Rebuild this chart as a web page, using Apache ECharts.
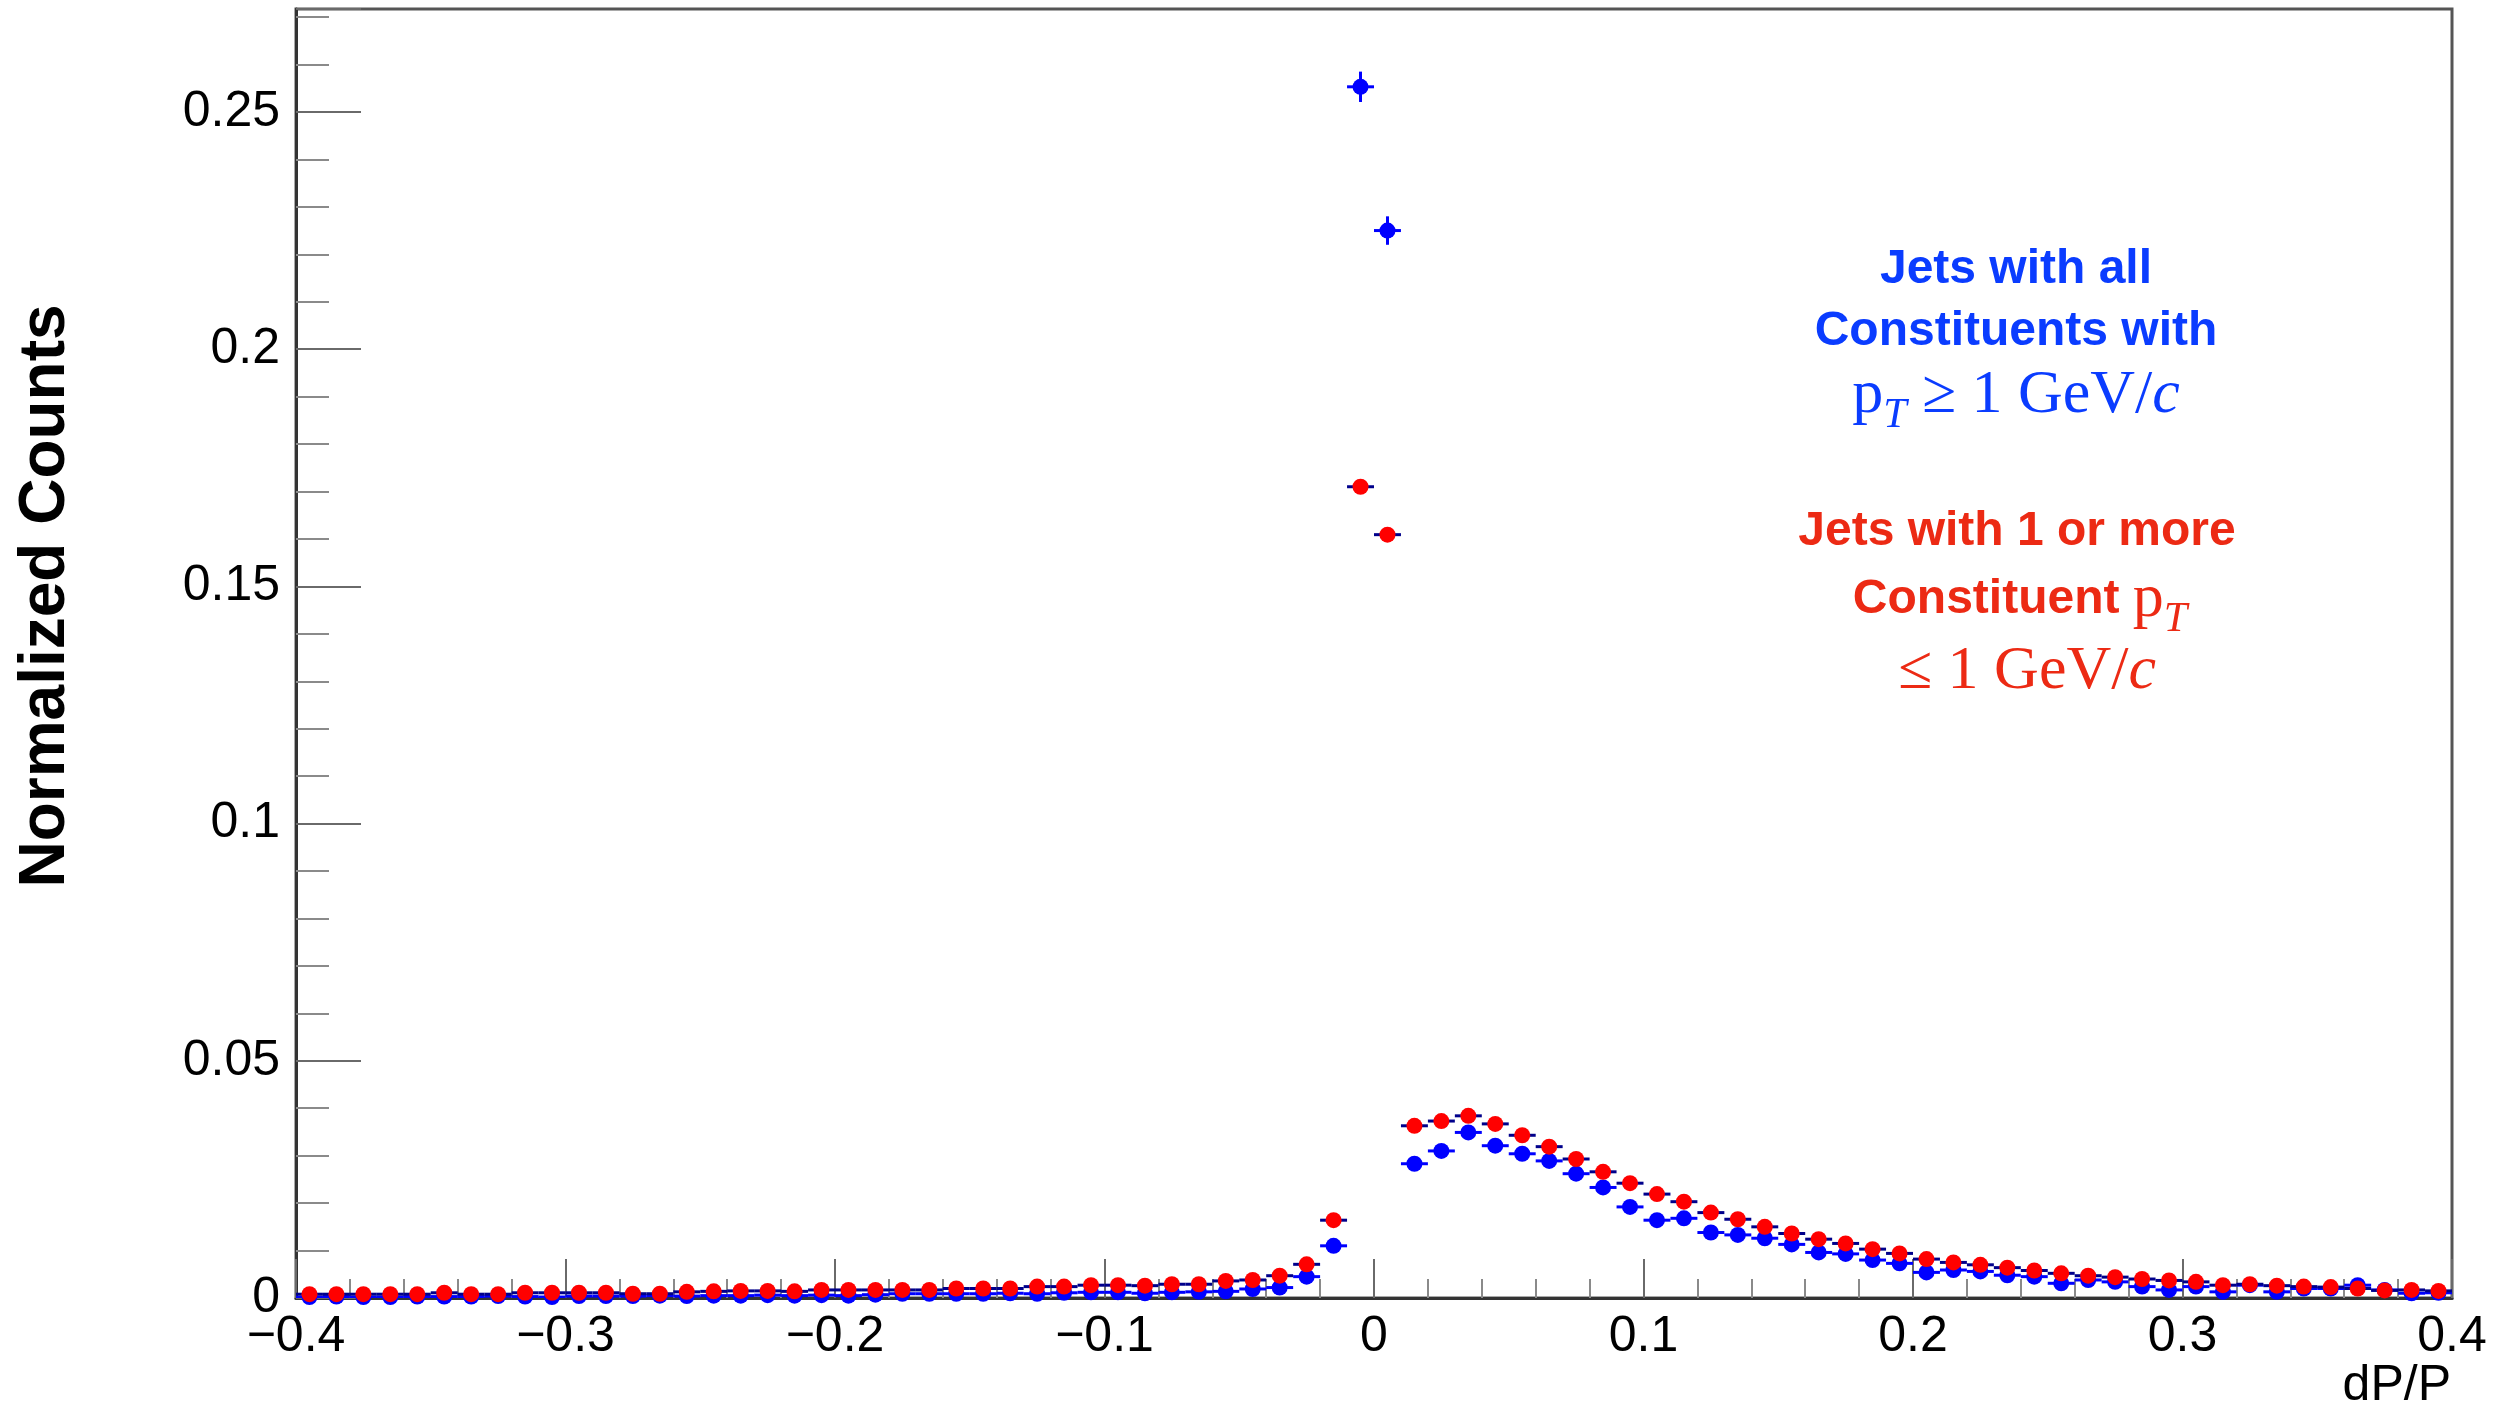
<!DOCTYPE html>
<html>
<head>
<meta charset="utf-8">
<script src="https://cdn.jsdelivr.net/npm/echarts@6/dist/echarts.min.js"></script>
<style>
  html, body { margin: 0; padding: 0; background: #ffffff; }
  #main { width: 2509px; height: 1410px; }
</style>
</head>
<body>
<div id="main"></div>
<script>
// Bin centres of the dP/P histogram (80 bins of width 0.01 from -0.4 to 0.4)
const binCenters = [
  -0.395, -0.385, -0.375, -0.365, -0.355, -0.345, -0.335, -0.325, -0.315, -0.305,
  -0.295, -0.285, -0.275, -0.265, -0.255, -0.245, -0.235, -0.225, -0.215, -0.205,
  -0.195, -0.185, -0.175, -0.165, -0.155, -0.145, -0.135, -0.125, -0.115, -0.105,
  -0.095, -0.085, -0.075, -0.065, -0.055, -0.045, -0.035, -0.025, -0.015, -0.005,
   0.005,  0.015,  0.025,  0.035,  0.045,  0.055,  0.065,  0.075,  0.085,  0.095,
   0.105,  0.115,  0.125,  0.135,  0.145,  0.155,  0.165,  0.175,  0.185,  0.195,
   0.205,  0.215,  0.225,  0.235,  0.245,  0.255,  0.265,  0.275,  0.285,  0.295,
   0.305,  0.315,  0.325,  0.335,  0.345,  0.355,  0.365,  0.375,  0.385,  0.395
];
const binWidth = 0.01;

// Jets whose constituents all have pT >= 1 GeV/c (blue)
const hardJets = [
  0.0002, 0.0003, 0.0002, 0.0002, 0.0003, 0.0003, 0.0003, 0.0004, 0.0003, 0.0002,
  0.0004, 0.0004, 0.0004, 0.0005, 0.0004, 0.0005, 0.0005, 0.0006, 0.0005, 0.0006,
  0.0005, 0.0007, 0.0009, 0.0009, 0.0009, 0.0009, 0.0010, 0.0009, 0.0011, 0.0012,
  0.0012, 0.0010, 0.0012, 0.0013, 0.0014, 0.0019, 0.0022, 0.0045, 0.0110, 0.2553,
  0.2250, 0.0283, 0.0310, 0.0349, 0.0321, 0.0304, 0.0289, 0.0262, 0.0233, 0.0192,
  0.0164, 0.0168, 0.0138, 0.0133, 0.0126, 0.0113, 0.0096, 0.0093, 0.0080, 0.0073,
  0.0054, 0.0059, 0.0056, 0.0048, 0.0045, 0.0031, 0.0038, 0.0034, 0.0024, 0.0017,
  0.0024, 0.0013, 0.0027, 0.0013, 0.0020, 0.0020, 0.0027, 0.0017, 0.0010, 0.0011
];
const hardJetsErr = [
  0.0001, 0.0001, 0.0001, 0.0001, 0.0001, 0.0001, 0.0001, 0.0001, 0.0001, 0.0001,
  0.0001, 0.0001, 0.0001, 0.0001, 0.0001, 0.0001, 0.0001, 0.0001, 0.0001, 0.0001,
  0.0001, 0.0001, 0.0002, 0.0002, 0.0002, 0.0002, 0.0002, 0.0002, 0.0002, 0.0002,
  0.0002, 0.0002, 0.0002, 0.0002, 0.0002, 0.0003, 0.0003, 0.0004, 0.0007, 0.0032,
  0.0030, 0.0010, 0.0010, 0.0011, 0.0010, 0.0010, 0.0010, 0.0009, 0.0009, 0.0008,
  0.0007, 0.0007, 0.0007, 0.0006, 0.0006, 0.0006, 0.0005, 0.0005, 0.0005, 0.0005,
  0.0004, 0.0004, 0.0004, 0.0004, 0.0004, 0.0003, 0.0003, 0.0003, 0.0003, 0.0002,
  0.0003, 0.0002, 0.0003, 0.0002, 0.0002, 0.0002, 0.0003, 0.0002, 0.0002, 0.0002
];

// Jets with one or more constituents of pT <= 1 GeV/c (red)
const softJets = [
  0.0008, 0.0008, 0.0008, 0.0008, 0.0008, 0.0011, 0.0008, 0.0008, 0.0011, 0.0011,
  0.0011, 0.0011, 0.0009, 0.0009, 0.0013, 0.0014, 0.0015, 0.0015, 0.0014, 0.0017,
  0.0017, 0.0017, 0.0017, 0.0017, 0.0020, 0.0020, 0.0020, 0.0024, 0.0024, 0.0027,
  0.0027, 0.0026, 0.0029, 0.0029, 0.0036, 0.0038, 0.0047, 0.0071, 0.0164, 0.1710,
  0.1609, 0.0363, 0.0373, 0.0384, 0.0367, 0.0343, 0.0319, 0.0293, 0.0266, 0.0242,
  0.0219, 0.0203, 0.0180, 0.0166, 0.0150, 0.0136, 0.0124, 0.0115, 0.0103, 0.0094,
  0.0082, 0.0075, 0.0070, 0.0064, 0.0058, 0.0052, 0.0047, 0.0044, 0.0040, 0.0037,
  0.0034, 0.0027, 0.0029, 0.0026, 0.0024, 0.0023, 0.0020, 0.0016, 0.0017, 0.0015
];
const softJetsErr = [
  0.0001, 0.0001, 0.0001, 0.0001, 0.0001, 0.0001, 0.0001, 0.0001, 0.0001, 0.0001,
  0.0001, 0.0001, 0.0001, 0.0001, 0.0001, 0.0001, 0.0001, 0.0001, 0.0001, 0.0001,
  0.0001, 0.0001, 0.0001, 0.0001, 0.0001, 0.0001, 0.0001, 0.0002, 0.0002, 0.0002,
  0.0002, 0.0002, 0.0002, 0.0002, 0.0002, 0.0002, 0.0002, 0.0003, 0.0004, 0.0012,
  0.0011, 0.0006, 0.0006, 0.0006, 0.0006, 0.0005, 0.0005, 0.0005, 0.0005, 0.0004,
  0.0004, 0.0004, 0.0004, 0.0004, 0.0003, 0.0003, 0.0003, 0.0003, 0.0003, 0.0003,
  0.0003, 0.0002, 0.0002, 0.0002, 0.0002, 0.0002, 0.0002, 0.0002, 0.0002, 0.0002,
  0.0002, 0.0001, 0.0002, 0.0001, 0.0001, 0.0001, 0.0001, 0.0001, 0.0001, 0.0001
];

// Axis tick values and their printed labels
const xTicks = [-0.4, -0.3, -0.2, -0.1, 0, 0.1, 0.2, 0.3, 0.4];
const xTickLabels = ['\u22120.4', '\u22120.3', '\u22120.2', '\u22120.1', '0', '0.1', '0.2', '0.3', '0.4'];
const yTicks = [0, 0.05, 0.1, 0.15, 0.2, 0.25];
const yTickLabels = ['0', '0.05', '0.1', '0.15', '0.2', '0.25'];

const X_MIN = -0.4, X_MAX = 0.4, Y_MIN = 0, Y_MAX = 0.2717;

const SANS = 'Liberation Sans, Arial, Helvetica, sans-serif';
const SERIF = 'Liberation Serif, Times New Roman, serif';
const BLUE = '#0000ff';
const RED = '#ff0000';
const NAVY = '#00008b';
const BLUE_TEXT = '#0a3cff';
const RED_TEXT = '#ec2a14';

function tickLabel(ticks, labels) {
  return function (v) {
    for (let i = 0; i < ticks.length; i++) {
      if (Math.abs(ticks[i] - v) < 1e-9) return labels[i];
    }
    return '';
  };
}

// Horizontal bar spanning the bin plus a vertical bar of +/- the statistical error
function errorBars(name, values, errors, color) {
  return {
    type: 'custom',
    name: name,
    data: binCenters.map((x, i) => [x, values[i], errors[i]]),
    encode: { x: 0, y: 1 },
    silent: true,
    clip: true,
    renderItem: function (params, api) {
      const x = api.value(0), y = api.value(1), e = api.value(2);
      const l = api.coord([x - binWidth / 2, y]);
      const r = api.coord([x + binWidth / 2, y]);
      const lo = api.coord([x, Math.max(Y_MIN, y - e)]);
      const hi = api.coord([x, y + e]);
      const style = { stroke: color, lineWidth: 3 };
      return {
        type: 'group',
        children: [
          { type: 'line', shape: { x1: l[0], y1: l[1], x2: r[0], y2: r[1] }, style: style },
          { type: 'line', shape: { x1: lo[0], y1: lo[1], x2: hi[0], y2: hi[1] }, style: style }
        ]
      };
    }
  };
}

function markers(name, values, color) {
  return {
    type: 'scatter',
    name: name,
    data: binCenters.map((x, i) => [x, values[i]]),
    symbol: 'circle',
    symbolSize: 16,
    itemStyle: { color: color, opacity: 1 },
    silent: true
  };
}

const chart = echarts.init(document.getElementById('main'), null, { renderer: 'canvas' });

const serifLine = (color) => ({
  r: { fill: color, fontFamily: SERIF, fontSize: 62, lineHeight: 82 },
  s: { fill: color, fontFamily: SERIF, fontStyle: 'italic', fontSize: 42, lineHeight: 42, verticalAlign: 'bottom' },
  i: { fill: color, fontFamily: SERIF, fontStyle: 'italic', fontSize: 62, lineHeight: 82 },
  b: { fill: color, fontFamily: SANS, fontWeight: 'bold', fontSize: 48, lineHeight: 82 }
});

chart.setOption({
  animation: false,
  backgroundColor: '#ffffff',
  grid: {
    left: 296, right: 57, top: 9, bottom: 112,
    outerBoundsMode: 'none',
    containLabel: false,
    show: true, borderColor: '#555555', borderWidth: 3, backgroundColor: 'transparent'
  },
  xAxis: {
    type: 'value',
    min: X_MIN, max: X_MAX, interval: 0.1,
    axisLine: { show: true, onZero: false, lineStyle: { color: '#333333', width: 3 } },
    axisTick: { show: true, inside: true, length: 39, lineStyle: { color: '#6a6a6a', width: 2 } },
    minorTick: { show: true, splitNumber: 5, length: 19, lineStyle: { color: '#8a8a8a', width: 2 } },
    splitLine: { show: false },
    axisLabel: {
      margin: 14, fontSize: 50, fontFamily: SANS, color: '#000000',
      formatter: tickLabel(xTicks, xTickLabels)
    }
  },
  yAxis: {
    type: 'value',
    min: Y_MIN, max: Y_MAX, interval: 0.05,
    axisLine: { show: true, onZero: false, lineStyle: { color: '#333333', width: 3 } },
    axisTick: { show: true, inside: true, length: 65, lineStyle: { color: '#6a6a6a', width: 2 } },
    minorTick: { show: true, splitNumber: 5, length: 33, lineStyle: { color: '#8a8a8a', width: 2 } },
    splitLine: { show: false },
    axisLabel: {
      margin: 16, fontSize: 50, fontFamily: SANS, color: '#000000',
      showMaxLabel: false,
      formatter: tickLabel(yTicks, yTickLabels)
    }
  },
  series: [
    errorBars('all constituents pT >= 1 GeV/c', hardJets, hardJetsErr, BLUE),
    markers('all constituents pT >= 1 GeV/c', hardJets, BLUE),
    errorBars('constituent pT <= 1 GeV/c', softJets, softJetsErr, NAVY),
    markers('constituent pT <= 1 GeV/c', softJets, RED)
  ],
  graphic: [
    {
      // y-axis title
      type: 'text', x: 46, y: 596, rotation: Math.PI / 2, silent: true,
      style: { text: 'Normalized Counts', fill: '#000000', font: 'bold 64px ' + SANS, align: 'center', verticalAlign: 'middle' }
    },
    {
      // x-axis title, right-aligned under the end of the axis
      type: 'text', x: 2451, y: 1386, silent: true,
      style: { text: 'dP/P', fill: '#000000', font: '50px ' + SANS, align: 'right', verticalAlign: 'middle' }
    },
    {
      type: 'text', x: 2016, y: 270, silent: true,
      style: { text: 'Jets with all', fill: BLUE_TEXT, font: 'bold 48px ' + SANS, align: 'center', verticalAlign: 'middle' }
    },
    {
      type: 'text', x: 2016, y: 332, silent: true,
      style: { text: 'Constituents with', fill: BLUE_TEXT, font: 'bold 48px ' + SANS, align: 'center', verticalAlign: 'middle' }
    },
    {
      type: 'text', x: 2016, y: 396, silent: true,
      style: {
        text: '{r|p}{s|T}{r| \u2265 1 GeV/}{i|c}',
        align: 'center', verticalAlign: 'middle',
        rich: serifLine(BLUE_TEXT)
      }
    },
    {
      type: 'text', x: 2017, y: 532, silent: true,
      style: { text: 'Jets with 1 or more', fill: RED_TEXT, font: 'bold 48px ' + SANS, align: 'center', verticalAlign: 'middle' }
    },
    {
      type: 'text', x: 2020, y: 600, silent: true,
      style: {
        text: '{b|Constituent }{r|p}{s|T}',
        align: 'center', verticalAlign: 'middle',
        rich: serifLine(RED_TEXT)
      }
    },
    {
      type: 'text', x: 2027, y: 672, silent: true,
      style: {
        text: '{r|\u2264 1 GeV/}{i|c}',
        align: 'center', verticalAlign: 'middle',
        rich: serifLine(RED_TEXT)
      }
    }
  ]
});
</script>
</body>
</html>
